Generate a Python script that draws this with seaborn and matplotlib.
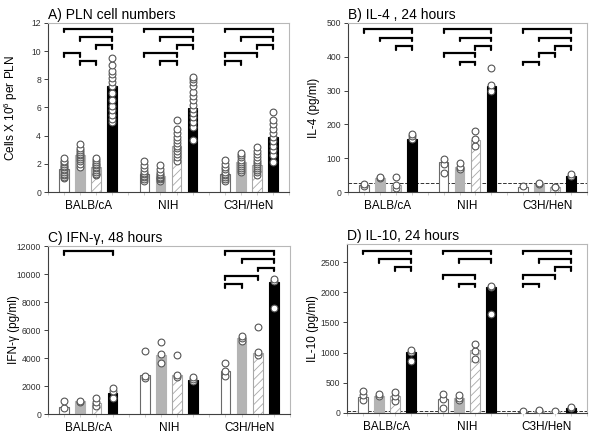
import numpy as np
import pandas as pd
import matplotlib
matplotlib.use("Agg")
import matplotlib.pyplot as plt
import seaborn as sns

strains = ["BALB/cA", "NIH", "C3H/HeN"]
conditions = ["open", "grey", "hatched", "black"]

# A) PLN cell numbers (x10^6)
pln_bars = [[1.65, 2.65, 1.75, 7.5], [1.3, 1.15, 3.3, 5.95], [1.3, 2.1, 1.95, 3.9]]
pln_points = [
    [[1.0, 1.1, 1.2, 1.3, 1.45, 1.55, 1.6, 1.75, 1.85, 2.0, 2.1, 2.2, 2.4],
     [1.8, 2.0, 2.2, 2.35, 2.5, 2.6, 2.7, 2.85, 3.0, 3.15, 3.4],
     [1.2, 1.3, 1.45, 1.55, 1.7, 1.8, 1.9, 2.0, 2.15, 2.3, 2.4],
     [5.0, 5.2, 5.5, 5.8, 6.1, 6.5, 7.0, 7.5, 7.8, 8.1, 8.4, 8.6, 9.0, 9.5]],
    [[0.8, 0.95, 1.05, 1.15, 1.25, 1.35, 1.5, 1.7, 1.9, 2.2],
     [0.8, 0.9, 1.0, 1.1, 1.2, 1.3, 1.45, 1.6, 1.9],
     [2.2, 2.5, 2.7, 2.9, 3.1, 3.3, 3.5, 3.7, 3.9, 4.2, 4.5, 5.1],
     [3.7, 4.6, 5.0, 5.3, 5.6, 5.9, 6.2, 6.5, 6.8, 7.1, 7.5, 7.8, 8.0, 8.2]],
    [[0.8, 0.95, 1.1, 1.2, 1.3, 1.45, 1.6, 1.8, 2.0, 2.25],
     [1.4, 1.55, 1.7, 1.85, 2.0, 2.15, 2.3, 2.45, 2.6, 2.8],
     [1.2, 1.4, 1.55, 1.7, 1.85, 2.0, 2.15, 2.3, 2.5, 2.7, 2.9, 3.2],
     [2.1, 2.6, 3.0, 3.3, 3.6, 3.9, 4.2, 4.5, 4.8, 5.1, 5.7]],
]
pln_brackets = [(0, 0, 3, 11.6), (0, 1, 3, 11.0), (0, 2, 3, 10.45), (0, 0, 1, 9.86), (0, 1, 2, 9.3),
                (1, 0, 3, 11.6), (1, 1, 3, 11.0), (1, 2, 3, 10.45), (1, 0, 2, 9.86), (1, 1, 2, 9.3),
                (2, 0, 3, 11.6), (2, 1, 3, 11.0), (2, 2, 3, 10.45), (2, 0, 2, 9.86), (2, 0, 1, 9.3)]

# B) IL-4, 24 hours (pg/ml)
il4_bars = [[22, 42, 22, 158], [88, 75, 155, 313], [15, 25, 15, 48]]
il4_points = [
    [[17, 24], [40, 45], [12, 20, 45], [157, 165, 172]],
    [[56, 84, 99], [67, 74, 87], [137, 158, 180], [300, 317, 366]],
    [[17], [25, 27], [14, 16], [47, 54]],
]
il4_brackets = [(0, 0, 3, 482), (0, 1, 3, 457), (0, 2, 3, 431),
                (1, 0, 3, 482), (1, 1, 3, 457), (1, 2, 3, 431), (1, 0, 2, 411), (1, 1, 2, 386),
                (2, 0, 3, 482), (2, 1, 3, 457), (2, 2, 3, 431), (2, 1, 2, 411), (2, 0, 1, 386)]
il4_cutoff = 27

# C) IFN-gamma, 48 hours (pg/ml)
ifn_bars = [[520, 900, 800, 1520], [2780, 4200, 2780, 2450], [3080, 5420, 4350, 9430]]
ifn_points = [
    [[400, 950], [880, 950], [590, 830, 1140], [1140, 1660, 1830]],
    [[2540, 2730, 4515], [3610, 4280, 5160], [2610, 2780, 4200], [2380, 2500, 2610]],
    [[2730, 3090, 3640], [5230, 5400, 5580], [4250, 4400, 6250], [7600, 9500, 9670]],
]
ifn_brackets = [(0, 0, 3, 11640),
                (2, 0, 3, 11640), (2, 1, 3, 11050), (2, 2, 3, 10460), (2, 0, 2, 9860), (2, 0, 1, 9270)]

# D) IL-10, 24 hours (pg/ml)
il10_bars = [[270, 285, 280, 1010], [230, 250, 1040, 2090], [22, 35, 28, 85]]
il10_points = [
    [[209, 291, 363], [285, 310], [198, 280, 346], [868, 1016, 1044]],
    [[82, 236, 308], [209, 255, 300], [896, 1022, 1143], [1637, 2090, 2104]],
    [[27], [40, 55], [38], [80, 99]],
]
il10_brackets = [(0, 0, 3, 2692), (0, 1, 3, 2544), (0, 2, 3, 2418),
                 (1, 0, 3, 2692), (1, 1, 3, 2544), (1, 0, 2, 2280), (1, 1, 2, 2143),
                 (2, 0, 3, 2692), (2, 1, 3, 2544), (2, 2, 3, 2418), (2, 0, 2, 2280), (2, 0, 1, 2143)]
il10_cutoff = 33

bar_faces = {"open": "white", "grey": "#b4b4b4", "hatched": "white", "black": "black"}
bar_edges = {"open": "#6a6a6a", "grey": "#b4b4b4", "hatched": "#a8a8a8", "black": "black"}

sns.set_style("ticks")
plt.rcParams["font.family"] = ["Liberation Sans", "DejaVu Sans"]
plt.rcParams["mathtext.default"] = "regular"
plt.rcParams["hatch.linewidth"] = 0.6
plt.rcParams["text.color"] = "black"
plt.rcParams["axes.labelcolor"] = "black"
plt.rcParams["xtick.labelcolor"] = "black"


def slot(g, k):
    return g * 5 + k


def draw_panel(ax, title, ylabel, bars, points, brackets, ymax, ystep, cutoff=None):
    bar_df = pd.DataFrame([
        {"pos": slot(g, k), "value": bars[g][k], "cond": c}
        for g in range(3) for k, c in enumerate(conditions)
    ])
    sns.barplot(data=bar_df, x="pos", y="value", hue="cond", hue_order=conditions,
                palette=bar_faces, native_scale=True, dodge=False, width=0.6,
                errorbar=None, legend=False, ax=ax, zorder=2)
    for c, cont in zip(conditions, ax.containers):
        for p in cont:
            p.set_edgecolor(bar_edges[c])
            p.set_linewidth(0.8)
            if c == "hatched":
                p.set_hatch("////")

    pt_df = pd.DataFrame([
        {"pos": slot(g, k), "value": v}
        for g in range(3) for k in range(4) for v in points[g][k]
    ])
    sns.scatterplot(data=pt_df, x="pos", y="value", marker="o", s=24, color="white",
                    edgecolor="#555555", linewidth=0.8, legend=False, ax=ax, zorder=3)

    h = ymax * 0.022
    for g, i, j, y in brackets:
        x1, x2 = slot(g, i), slot(g, j)
        ax.plot([x1, x1, x2, x2], [y - h, y, y, y - h], color="black", lw=1.6,
                solid_joinstyle="miter", zorder=4, clip_on=False)

    if cutoff is not None:
        ax.axhline(cutoff, ls="--", color="#333333", lw=0.7, zorder=1)

    ax.set_xlim(-1, 14)
    ax.set_ylim(0, ymax)
    ax.set_yticks(np.arange(0, ymax + 1e-9, ystep))
    ax.set_xticks([1.5, 6.5, 11.5])
    ax.set_xticklabels(strains, fontsize=8.5)
    ax.set_xticks(np.arange(-1, 15, 1), minor=True)
    ax.tick_params(axis="x", which="major", length=0, pad=6, labelcolor="black")
    ax.tick_params(axis="x", which="minor", length=2.5, color="#c8c8c8", width=0.6)
    ax.tick_params(axis="y", length=3, width=0.7, color="#404040", labelsize=6.2,
                   labelcolor="#303030", pad=2)
    ax.set_xlabel("")
    ax.set_ylabel(ylabel, fontsize=8.5)
    ax.yaxis.set_label_coords(-0.117, 0.5)
    ax.set_title(title, loc="left", fontsize=10, pad=3, color="black")
    for side in ["top", "right"]:
        ax.spines[side].set_color("#b8b8b8")
        ax.spines[side].set_linewidth(0.8)
    for side in ["left", "bottom"]:
        ax.spines[side].set_color("#404040")
        ax.spines[side].set_linewidth(0.8)


fig = plt.figure(figsize=(6, 4.38), dpi=100)
W, H = 600, 438
ax_a = fig.add_axes([48 / W, (H - 192) / H, 241 / W, 169 / H])
ax_b = fig.add_axes([348 / W, (H - 192) / H, 239 / W, 169 / H])
ax_c = fig.add_axes([48 / W, (H - 414) / H, 242 / W, 168 / H])
ax_d = fig.add_axes([347 / W, (H - 413) / H, 240 / W, 169 / H])

draw_panel(ax_a, "A) PLN cell numbers", "Cells X 10$^{6}$ per PLN", pln_bars, pln_points,
           pln_brackets, 12, 2)
draw_panel(ax_b, "B) IL-4 , 24 hours", "IL-4 (pg/ml)", il4_bars, il4_points,
           il4_brackets, 500, 100, cutoff=il4_cutoff)
draw_panel(ax_c, "C) IFN-\u03b3, 48 hours", "IFN-\u03b3 (pg/ml)", ifn_bars, ifn_points,
           ifn_brackets, 12000, 2000)
draw_panel(ax_d, "D) IL-10, 24 hours", "IL-10 (pg/ml)", il10_bars, il10_points,
           il10_brackets, 2800, 500, cutoff=il10_cutoff)

fig.savefig("out.png", dpi=100, facecolor="white")
